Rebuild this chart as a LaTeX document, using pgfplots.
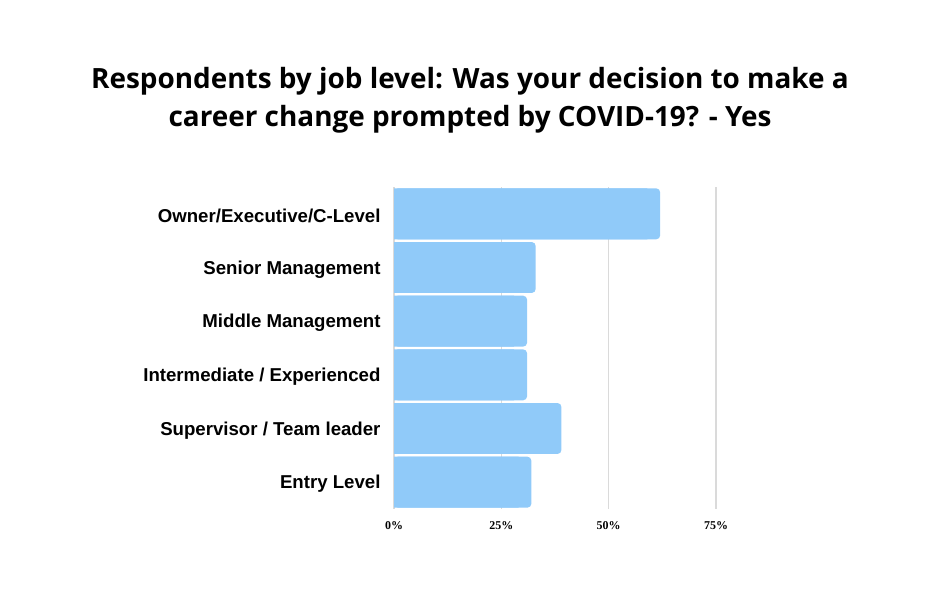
\documentclass[border=0pt]{standalone}
\usepackage{pgfplots}
\pgfplotsset{compat=1.18}
\usepackage{pgfplotstable}
\usepackage{fontspec}
\setmainfont{Liberation Sans}
\newfontfamily\titlefont{Open Sans}
\newfontfamily\tickfont{Liberation Serif}
\definecolor{barblue}{HTML}{90CAF9}
\definecolor{gridgray}{HTML}{DADADA}

\pgfplotstableread{
idx v
0 32
1 39
2 31
3 31
4 33
5 62
}\datatable

\begin{document}
\begin{tikzpicture}[x=1bp,y=1bp]
\useasboundingbox (0,0) rectangle (940,600);
\node[align=center, font=\titlefont\bfseries\fontsize{28}{38}\selectfont] at (470,500)
  {Respondents by job level: Was your decision to make a\\career change prompted by COVID-19? - Yes};
\begin{axis}[
  at={(394bp,91bp)}, anchor=south west,
  scale only axis, width=322bp, height=322bp,
  xbar, xmin=0, xmax=75, ymin=-0.5, ymax=5.5,
  bar width=0.95,
  xtick={0,25,50,75},
  xticklabels={0\%,25\%,50\%,75\%},
  xticklabel style={font=\tickfont\bfseries\fontsize{12}{12}\selectfont},
  ytick={0,...,5},
  yticklabels={Entry Level, Supervisor / Team leader, Intermediate / Experienced, Middle Management, Senior Management, Owner/Executive/C-Level},
  yticklabel style={font=\bfseries\fontsize{18.7}{18.7}\selectfont},
  xmajorgrids,
  major grid style={gridgray, line width=1.5bp},
  axis line style={draw=none},
  major tick length=0pt,
  y tick label style={xshift=-10bp, yshift=-2bp},
  x tick label style={yshift=-9bp},
]
\addplot[fill=barblue, draw=none, bar shift=0pt, rounded corners=4bp] table[x=v, y=idx]{\datatable};
\addplot[fill=barblue, draw=none, bar shift=0pt] table[x expr=\thisrow{v}-3, y=idx]{\datatable};
\end{axis}
\end{tikzpicture}
\end{document}
